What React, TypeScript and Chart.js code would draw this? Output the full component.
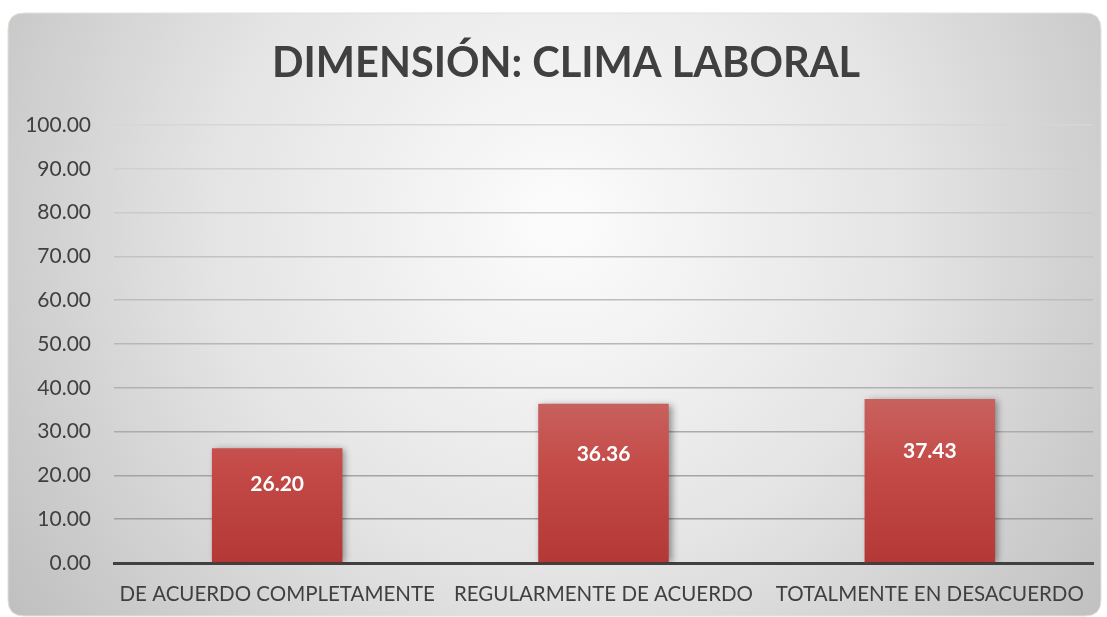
import React, { useEffect, useRef } from "react";
import { Chart, registerables } from "chart.js";

Chart.register(...registerables);

const titleText = "DIMENSIÓN: CLIMA LABORAL";
const categories = [
  "DE ACUERDO COMPLETAMENTE",
  "REGULARMENTE DE ACUERDO",
  "TOTALMENTE EN DESACUERDO",
];
const values = [26.2, 36.36, 37.43];
const yMin = 0;
const yMax = 100;
const yStep = 10;

const FONT = "Lato, 'Open Sans', sans-serif";
const TEXT = "#404040";

function lerp(a: number, b: number, t: number) {
  return Math.round(a + (b - a) * t);
}

const backgroundPlugin = {
  id: "bgbox",
  beforeDraw(chart: any) {
    const ctx = chart.ctx as CanvasRenderingContext2D;
    const x0 = 8, y0 = 13, x1 = 1101, y1 = 616, r = 16;
    ctx.save();
    const g = ctx.createRadialGradient(560, 220, 20, 560, 220, 680);
    g.addColorStop(0, "#fbfbfb");
    g.addColorStop(0.5, "#e4e4e4");
    g.addColorStop(1, "#bfbfbf");
    ctx.beginPath();
    ctx.moveTo(x0 + r, y0);
    ctx.lineTo(x1 - r, y0);
    ctx.quadraticCurveTo(x1, y0, x1, y0 + r);
    ctx.lineTo(x1, y1 - r);
    ctx.quadraticCurveTo(x1, y1, x1 - r, y1);
    ctx.lineTo(x0 + r, y1);
    ctx.quadraticCurveTo(x0, y1, x0, y1 - r);
    ctx.lineTo(x0, y0 + r);
    ctx.quadraticCurveTo(x0, y0, x0 + r, y0);
    ctx.closePath();
    ctx.fillStyle = g;
    ctx.fill();
    ctx.strokeStyle = "#e4e0d4";
    ctx.lineWidth = 1;
    ctx.stroke();
    // title
    ctx.fillStyle = TEXT;
    ctx.font = `bold 41.5px ${FONT}`;
    ctx.textAlign = "center";
    ctx.textBaseline = "middle";
    ctx.fillText(titleText, 566, 64);
    ctx.restore();
  },
};

const shadowPlugin = {
  id: "barshadow",
  beforeDatasetDraw(chart: any) {
    const ctx = chart.ctx as CanvasRenderingContext2D;
    ctx.save();
    ctx.shadowColor = "rgba(0,0,0,0.4)";
    ctx.shadowBlur = 7;
    ctx.shadowOffsetX = 3;
    ctx.shadowOffsetY = 1;
  },
  afterDatasetDraw(chart: any) {
    chart.ctx.restore();
  },
};

const labelPlugin = {
  id: "barlabels",
  afterDatasetsDraw(chart: any) {
    const ctx = chart.ctx as CanvasRenderingContext2D;
    const meta = chart.getDatasetMeta(0);
    ctx.save();
    ctx.fillStyle = "#ffffff";
    ctx.font = `bold 21px ${FONT}`;
    ctx.textAlign = "center";
    ctx.textBaseline = "middle";
    meta.data.forEach((bar: any, i: number) => {
      const y = bar.y + (bar.base - bar.y) * 0.32;
      ctx.fillText(values[i].toFixed(2), bar.x, y);
    });
    ctx.restore();
  },
};

export default function App() {
  const ref = useRef<HTMLCanvasElement | null>(null);
  useEffect(() => {
    if (!ref.current) return;
    const chart = new Chart(ref.current, {
      type: "bar",
      data: {
        labels: categories,
        datasets: [
          {
            data: values,
            backgroundColor: (c: any) => {
              const area = c.chart.chartArea;
              if (!area) return "#c0504d";
              const g = c.chart.ctx.createLinearGradient(0, area.top + 250, 0, area.bottom);
              g.addColorStop(0, "#c96a66");
              g.addColorStop(0.5, "#c44a47");
              g.addColorStop(1, "#b43936");
              return g;
            },
            borderWidth: 0,
            barPercentage: 0.4,
            categoryPercentage: 1,
          },
        ],
      },
      options: {
        responsive: false,
        animation: false,
        devicePixelRatio: 1,
        layout: { padding: { left: 0, top: 125, right: 14, bottom: 0 } },
        plugins: {
          legend: { display: false },
          title: { display: false },
          tooltip: { enabled: false },
        },
        scales: {
          x: {
            grid: { display: false, drawTicks: false },
            border: { display: true, color: "#404040", width: 3 },
            ticks: {
              color: TEXT,
              font: { family: FONT, size: 20.5 },
              padding: 19,
              maxRotation: 0,
              autoSkip: false,
            },
            afterFit(scale: any) {
              scale.height = 54;
            },
          },
          y: {
            min: yMin,
            max: yMax,
            ticks: {
              stepSize: yStep,
              color: TEXT,
              font: { family: FONT, size: 21 },
              padding: 23,
              callback: (v: any) => Number(v).toFixed(2),
            },
            grid: {
              drawTicks: false,
              lineWidth: 1.5,
              color: (c: any) => {
                const t = c.tick ? c.tick.value / yMax : 0;
                const v = lerp(0x98, 0xd6, t);
                return `rgb(${v},${v},${v})`;
              },
            },
            border: { display: false },
            afterFit(scale: any) {
              scale.width = 114;
            },
          },
        },
      },
      plugins: [backgroundPlugin, shadowPlugin, labelPlugin],
    } as any);
    return () => chart.destroy();
  }, []);
  return (
    <div style={{ position: "absolute", left: 0, top: 0, width: 1107, height: 617 }}>
      <canvas ref={ref} width={1107} height={617} />
    </div>
  );
}
